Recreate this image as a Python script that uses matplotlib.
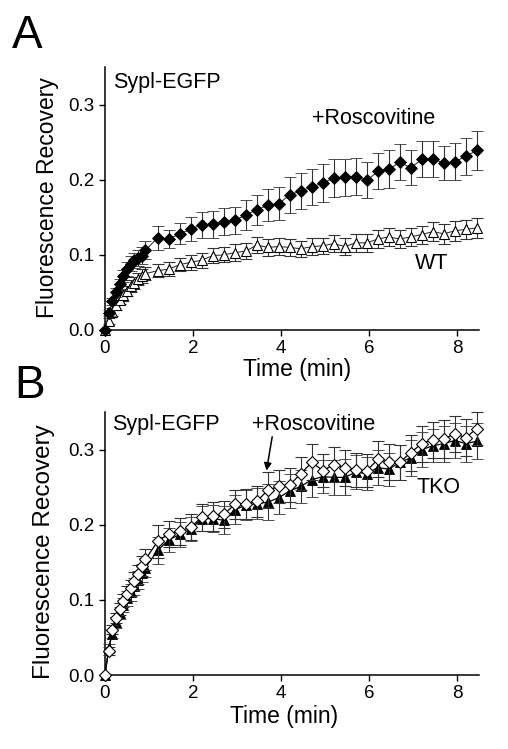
import matplotlib
matplotlib.use("Agg")
import matplotlib.pyplot as plt

plt.rcParams['font.family'] = ['Liberation Sans', 'DejaVu Sans']

# ---------------- data ----------------
time_early = [0.0, 0.08, 0.17, 0.25, 0.33, 0.42, 0.50, 0.58, 0.67, 0.75, 0.83, 0.92]
time_late = [1.20, 1.45, 1.70, 1.95, 2.20, 2.45, 2.70, 2.95, 3.20, 3.45,
             3.70, 3.95, 4.20, 4.45, 4.70, 4.95, 5.20, 5.45, 5.70, 5.95,
             6.20, 6.45, 6.70, 6.95, 7.20, 7.45, 7.70, 7.95, 8.20, 8.45]
time_min = time_early + time_late

# Panel A
a_rosc = [0.0, 0.022, 0.038, 0.050, 0.061, 0.072, 0.081, 0.088, 0.093, 0.096, 0.099, 0.106,
          0.123, 0.121, 0.128, 0.134, 0.140, 0.141, 0.144, 0.146, 0.153, 0.160,
          0.166, 0.168, 0.180, 0.185, 0.190, 0.196, 0.202, 0.203, 0.204, 0.199,
          0.211, 0.214, 0.223, 0.216, 0.227, 0.228, 0.222, 0.224, 0.231, 0.239]
a_rosc_err = [0.0, 0.004, 0.005, 0.006, 0.007, 0.008, 0.009, 0.010, 0.010, 0.011, 0.011, 0.012,
              0.016, 0.012, 0.014, 0.016, 0.017, 0.018, 0.018, 0.018, 0.020, 0.020,
              0.021, 0.022, 0.024, 0.024, 0.024, 0.025, 0.025, 0.025, 0.025, 0.024,
              0.024, 0.025, 0.024, 0.023, 0.024, 0.024, 0.023, 0.025, 0.025, 0.026]
a_wt = [0.0, 0.012, 0.024, 0.033, 0.040, 0.046, 0.052, 0.058, 0.063, 0.068, 0.072, 0.075,
        0.079, 0.081, 0.087, 0.090, 0.093, 0.099, 0.100, 0.103, 0.105, 0.113,
        0.110, 0.111, 0.110, 0.108, 0.111, 0.112, 0.115, 0.111, 0.116, 0.116,
        0.121, 0.124, 0.121, 0.124, 0.127, 0.131, 0.128, 0.132, 0.134, 0.136]
a_wt_err = [0.0, 0.004, 0.005, 0.006, 0.006, 0.007, 0.007, 0.008, 0.008, 0.008, 0.009, 0.009,
            0.009, 0.009, 0.009, 0.010, 0.010, 0.010, 0.010, 0.011, 0.011, 0.011,
            0.011, 0.011, 0.011, 0.011, 0.011, 0.011, 0.011, 0.011, 0.012, 0.012,
            0.012, 0.012, 0.012, 0.012, 0.012, 0.013, 0.013, 0.013, 0.013, 0.013]

# Panel B
b_rosc = [0.0, 0.032, 0.060, 0.076, 0.088, 0.099, 0.108, 0.116, 0.125, 0.134, 0.145, 0.154,
          0.178, 0.188, 0.191, 0.197, 0.210, 0.211, 0.214, 0.227, 0.228, 0.231,
          0.246, 0.251, 0.253, 0.268, 0.283, 0.272, 0.280, 0.276, 0.273, 0.272,
          0.287, 0.283, 0.283, 0.296, 0.308, 0.313, 0.314, 0.321, 0.316, 0.328]
b_rosc_err = [0.0, 0.005, 0.006, 0.007, 0.008, 0.009, 0.010, 0.011, 0.012, 0.013, 0.013, 0.014,
              0.022, 0.017, 0.018, 0.017, 0.018, 0.019, 0.018, 0.019, 0.020, 0.021,
              0.024, 0.022, 0.023, 0.022, 0.024, 0.022, 0.023, 0.024, 0.023, 0.022,
              0.024, 0.024, 0.023, 0.024, 0.024, 0.024, 0.025, 0.024, 0.025, 0.022]
b_tko = [0.0, 0.036, 0.055, 0.070, 0.082, 0.093, 0.102, 0.110, 0.118, 0.126, 0.136, 0.143,
         0.166, 0.180, 0.187, 0.194, 0.208, 0.208, 0.206, 0.220, 0.226, 0.228,
         0.230, 0.236, 0.245, 0.251, 0.260, 0.264, 0.263, 0.263, 0.270, 0.268,
         0.276, 0.274, 0.283, 0.289, 0.300, 0.305, 0.308, 0.312, 0.308, 0.311]
b_tko_err = [0.0, 0.005, 0.006, 0.007, 0.008, 0.009, 0.010, 0.011, 0.011, 0.012, 0.012, 0.013,
             0.018, 0.016, 0.017, 0.016, 0.017, 0.018, 0.019, 0.019, 0.020, 0.021,
             0.024, 0.022, 0.023, 0.022, 0.023, 0.022, 0.023, 0.024, 0.023, 0.022,
             0.023, 0.022, 0.023, 0.024, 0.023, 0.022, 0.024, 0.023, 0.024, 0.024]

xticks = [0, 2, 4, 6, 8]
yticks = [0.0, 0.1, 0.2, 0.3]

# ---------------- figure ----------------
W, H = 508, 749
fig = plt.figure(figsize=(W / 100, H / 100), dpi=100)

def px_axes(left, top, right, bottom):
    return fig.add_axes([left / W, 1 - bottom / H, (right - left) / W, (bottom - top) / H])

axA = px_axes(105, 67, 479, 330)
axB = px_axes(105, 412, 479, 675)

err_kw = dict(ecolor='#333333', elinewidth=0.8, capsize=4.0, capthick=0.8)

def style(ax):
    ax.set_xlim(0, 8.5)
    ax.set_ylim(0, 0.35)
    ax.set_xticks(xticks)
    ax.set_yticks(yticks)
    ax.set_xticklabels([str(t) for t in xticks])
    ax.set_yticklabels([f"{t:.1f}" for t in yticks])
    for s in ['top', 'right']:
        ax.spines[s].set_visible(False)
    for s in ['left', 'bottom']:
        ax.spines[s].set_linewidth(1.1)
    ax.tick_params(direction='out', length=4.5, width=1.0, labelsize=13.5, pad=3)
    ax.tick_params(axis='x', pad=3)

# Panel A
axA.errorbar(time_min, a_wt, yerr=a_wt_err, fmt='-', color='#222222', lw=0.7,
             marker='^', ms=7.2, mfc='white', mec='black', mew=0.8,
             clip_on=False, zorder=3, **err_kw)
axA.errorbar(time_min, a_rosc, yerr=a_rosc_err, fmt='-', color='#222222', lw=0.7,
             marker='D', ms=6.3, mfc='black', mec='black', mew=0.6,
             clip_on=False, zorder=4, **err_kw)
style(axA)
axA.text(0.18, 0.329, 'Sypl-EGFP', fontsize=15.5, va='center', ha='left')
axA.text(4.7, 0.282, '+Roscovitine', fontsize=15.5, va='center', ha='left')
axA.text(7.05, 0.089, 'WT', fontsize=15.5, va='center', ha='left')

# Panel B
axB.errorbar(time_min, b_tko, yerr=b_tko_err, fmt='-', color='black', lw=0.9,
             marker='^', ms=7.2, mfc='black', mec='black', mew=0.6,
             clip_on=False, zorder=3, **err_kw)
axB.errorbar(time_min, b_rosc, yerr=b_rosc_err, fmt='-', color='black', lw=0.9,
             marker='D', ms=6.3, mfc='white', mec='black', mew=0.8,
             clip_on=False, zorder=4, **err_kw)
style(axB)
axB.text(0.16, 0.333, 'Sypl-EGFP', fontsize=15.5, va='center', ha='left')
axB.text(3.34, 0.333, '+Roscovitine', fontsize=15.5, va='center', ha='left')
axB.text(7.09, 0.249, 'TKO', fontsize=15.5, va='center', ha='left')
axB.annotate('', xy=(3.67, 0.272), xytext=(3.8, 0.317),
             arrowprops=dict(arrowstyle='-|>', color='black', lw=1.1,
                             mutation_scale=11, shrinkA=0, shrinkB=0))

# Axis labels and panel letters
fig.text(297 / W, 1 - 370 / H, 'Time (min)', fontsize=16.5, ha='center', va='center')
fig.text(284 / W, 1 - 716 / H, 'Time (min)', fontsize=16.5, ha='center', va='center')
fig.text(48 / W, 1 - 198 / H, 'Fluorescence Recovery', fontsize=16.5, rotation=90,
         ha='center', va='center')
fig.text(44 / W, 1 - 552 / H, 'Fluorescence Recovery', fontsize=17.5, rotation=90,
         ha='center', va='center')
fig.text(12 / W, 1 - 48 / H, 'A', fontsize=33, ha='left', va='baseline')
fig.text(14 / W, 1 - 398 / H, 'B', fontsize=33, ha='left', va='baseline')

fig.savefig('out.png', dpi=100)
